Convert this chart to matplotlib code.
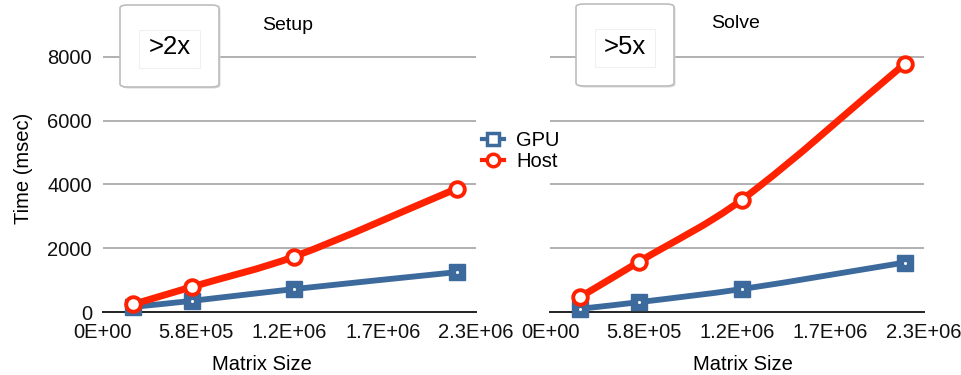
import matplotlib
matplotlib.use("Agg")
import matplotlib.pyplot as plt
from matplotlib.path import Path
from matplotlib.patches import PathPatch, FancyBboxPatch, Rectangle
from matplotlib.lines import Line2D
from matplotlib.ticker import FixedLocator

plt.rcParams['font.family'] = ['Liberation Sans', 'DejaVu Sans']

# ---- data ----
matrix_size = [1.87e5, 5.54e5, 1.19e6, 2.20e6]
setup_gpu = [160, 350, 720, 1250]
setup_host = [240, 790, 1740, 3870]
solve_gpu = [100, 310, 720, 1550]
solve_host = [470, 1580, 3520, 7780]
panel_titles = ["Setup", "Solve"]
speedups = [">2x", ">5x"]
x_ticks = [0, 5.8e5, 1.16e6, 1.74e6, 2.32e6]
x_tick_labels = ["0E+00", "5.8E+05", "1.2E+06", "1.7E+06", "2.3E+06"]
y_ticks = [0, 2000, 4000, 6000, 8000]

BLUE = "#3c6a9c"
RED = "#ff2200"
FS = 14.5

W, H = 961, 375
fig = plt.figure(figsize=(W / 100, H / 100), dpi=100)


def smooth_path(xs, ys):
    # Hermite spline with x-based tangents -> cubic Bezier segments
    n = len(xs)
    slopes = []
    for i in range(n):
        a = max(i - 1, 0)
        b = min(i + 1, n - 1)
        slopes.append((ys[b] - ys[a]) / (xs[b] - xs[a]))
    verts = [(xs[0], ys[0])]
    codes = [Path.MOVETO]
    for i in range(n - 1):
        dx = (xs[i + 1] - xs[i]) / 3.0
        c1 = (xs[i] + dx, ys[i] + slopes[i] * dx)
        c2 = (xs[i + 1] - dx, ys[i + 1] - slopes[i + 1] * dx)
        verts += [c1, c2, (xs[i + 1], ys[i + 1])]
        codes += [Path.CURVE4] * 3
    return Path(verts, codes)


def ax_rect(x0, y0, x1, y1):
    return [x0 / W, 1 - y1 / H, (x1 - x0) / W, (y1 - y0) / H]


axes = [fig.add_axes(ax_rect(103, 25, 476, 312)),
        fig.add_axes(ax_rect(550, 25, 924, 312))]
series = [(setup_gpu, setup_host), (solve_gpu, solve_host)]

for k, ax in enumerate(axes):
    gpu, host = series[k]
    ax.set_xlim(0, 2.32e6)
    ax.set_ylim(0, 9000)
    for s in ["top", "right", "left"]:
        ax.spines[s].set_visible(False)
    ax.spines["bottom"].set_color("#222222")
    ax.spines["bottom"].set_linewidth(1.4)
    ax.xaxis.set_major_locator(FixedLocator(x_ticks))
    ax.set_xticklabels(x_tick_labels)
    ax.yaxis.set_major_locator(FixedLocator(y_ticks))
    ax.tick_params(length=0, labelsize=FS, pad=8, colors="#111111")
    if k == 1:
        ax.set_yticklabels([])
    else:
        ax.set_ylabel("Time (msec)", fontsize=FS, labelpad=10)
    for yv in y_ticks[1:]:
        ax.axhline(yv, color="#aaaaaa", lw=1.3, zorder=1)

    for ys, col, lw in [(gpu, BLUE, 4.2), (host, RED, 5.0)]:
        pp = PathPatch(smooth_path(matrix_size, ys), facecolor="none",
                       edgecolor=col, lw=lw, capstyle="round", zorder=3,
                       clip_on=False)
        ax.add_patch(pp)
    ax.plot(matrix_size, gpu, ls="none", marker="s", ms=11, mfc=BLUE,
            mec=BLUE, zorder=4, clip_on=False)
    ax.plot(matrix_size, gpu, ls="none", marker="o", ms=2.2, mfc="white",
            mec="none", zorder=5, clip_on=False)
    ax.plot(matrix_size, host, ls="none", marker="o", ms=10.5, mfc="white",
            mec=RED, mew=2.8, zorder=5, clip_on=False)

# titles and axis labels
fig.text(288 / W, 1 - 25 / H, panel_titles[0], ha="center", va="center",
         fontsize=14)
fig.text(736 / W, 1 - 23 / H, panel_titles[1], ha="center", va="center",
         fontsize=14)
fig.text(262 / W, 1 - 364 / H, "Matrix Size", ha="center", va="center",
         fontsize=FS)
fig.text(743 / W, 1 - 364 / H, "Matrix Size", ha="center", va="center",
         fontsize=FS)

# speed-up boxes
for (x0, y0, x1, y1), txt in zip([(120, 5, 219, 87), (576, 4, 674, 86)],
                                 speedups):
    sh = FancyBboxPatch((x0 / W + 0.0015, 1 - y1 / H - 0.004),
                        (x1 - x0) / W, (y1 - y0) / H,
                        boxstyle="round,pad=0,rounding_size=0.008",
                        transform=fig.transFigure, facecolor="#d8d8d8",
                        edgecolor="none", zorder=9)
    fig.add_artist(sh)
    bx = FancyBboxPatch((x0 / W, 1 - y1 / H), (x1 - x0) / W, (y1 - y0) / H,
                        boxstyle="round,pad=0,rounding_size=0.008",
                        transform=fig.transFigure, facecolor="white",
                        edgecolor="#bdbdbd", lw=1.2, zorder=10)
    fig.add_artist(bx)
    inner = Rectangle(((x0 + 19) / W, 1 - (y1 - 19) / H), (x1 - x0 - 38) / W,
                      (y1 - y0 - 44) / H, transform=fig.transFigure,
                      facecolor="white", edgecolor="#f0f0f0", lw=0.8,
                      zorder=11)
    fig.add_artist(inner)
    fig.text((x0 + x1) / 2 / W, 1 - 47 / H, txt, ha="center", va="center",
             fontsize=18.5, zorder=12)

# legend
handles = [Line2D([], [], color=BLUE, lw=3, marker="s", ms=9, mfc="white",
                  mec=BLUE, mew=2.5),
           Line2D([], [], color=RED, lw=3, marker="o", ms=9, mfc="white",
                  mec=RED, mew=2.5)]
fig.legend(handles, ["GPU", "Host"], loc="center left",
           bbox_to_anchor=(472 / W, 1 - 151 / H), frameon=False,
           fontsize=FS, handlelength=1.1, handletextpad=0.6,
           labelspacing=0.1, borderpad=0)

fig.savefig("out.png", dpi=100)
